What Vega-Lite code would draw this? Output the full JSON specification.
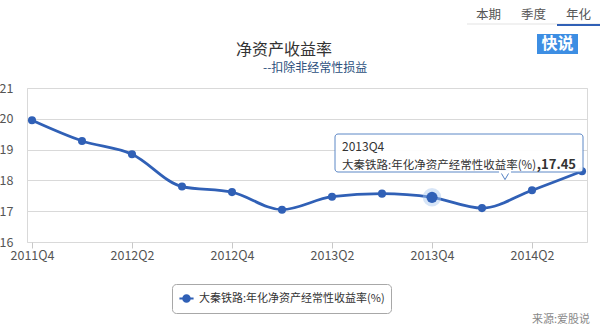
{
  "$schema": "https://vega.github.io/schema/vega-lite/v6.json",
  "width": 560,
  "height": 154,
  "autosize": {"type": "none"},
  "padding": {"left": 27, "top": 88, "right": 13, "bottom": 88},
  "background": "white",
  "config": {
    "font": "Noto Sans CJK SC",
    "view": {"stroke": "#d9d9d9"},
    "axisX": {"grid": false, "domain": false, "ticks": true, "tickColor": "#c8c8c8", "tickSize": 6, "labelColor": "#555555", "labelFontSize": 12.5, "labelPadding": 1, "labelAngle": 0},
    "axisY": {"grid": true, "gridColor": "#d9d9d9", "domain": false, "ticks": false, "labelColor": "#555555", "labelFontSize": 12.5, "labelPadding": 14}
  },
  "datasets": {
    "roe": [
      {"quarter": "2011Q4", "value": 19.95, "series": "大秦铁路:年化净资产经常性收益率(%)"},
      {"quarter": "2012Q1", "value": 19.28, "series": "大秦铁路:年化净资产经常性收益率(%)"},
      {"quarter": "2012Q2", "value": 18.85, "series": "大秦铁路:年化净资产经常性收益率(%)"},
      {"quarter": "2012Q3", "value": 17.8, "series": "大秦铁路:年化净资产经常性收益率(%)"},
      {"quarter": "2012Q4", "value": 17.62, "series": "大秦铁路:年化净资产经常性收益率(%)"},
      {"quarter": "2013Q1", "value": 17.05, "series": "大秦铁路:年化净资产经常性收益率(%)"},
      {"quarter": "2013Q2", "value": 17.47, "series": "大秦铁路:年化净资产经常性收益率(%)"},
      {"quarter": "2013Q3", "value": 17.57, "series": "大秦铁路:年化净资产经常性收益率(%)"},
      {"quarter": "2013Q4", "value": 17.45, "series": "大秦铁路:年化净资产经常性收益率(%)"},
      {"quarter": "2014Q1", "value": 17.1, "series": "大秦铁路:年化净资产经常性收益率(%)"},
      {"quarter": "2014Q2", "value": 17.68, "series": "大秦铁路:年化净资产经常性收益率(%)"},
      {"quarter": "2014Q3", "value": 18.3, "series": "大秦铁路:年化净资产经常性收益率(%)"}
    ],
    "one": [{}]
  },
  "data": {"name": "roe"},
  "layer": [
    {
      "mark": {"type": "line", "interpolate": "monotone", "strokeWidth": 2.8},
      "encoding": {
        "x": {"field": "quarter", "type": "ordinal", "sort": null,
              "scale": {"type": "point", "padding": 0.1, "domain": ["2011Q4","2012Q1","2012Q2","2012Q3","2012Q4","2013Q1","2013Q2","2013Q3","2013Q4","2014Q1","2014Q2","2014Q3"]},
              "axis": {"title": null, "values": ["2011Q4","2012Q2","2012Q4","2013Q2","2013Q4","2014Q2"]}},
        "y": {"field": "value", "type": "quantitative", "scale": {"domain": [16, 21], "nice": false, "zero": false},
              "axis": {"title": null, "values": [16, 17, 18, 19, 20, 21]}},
        "color": {"field": "series", "type": "nominal", "scale": {"range": ["#3060b6"]},
                  "legend": {"title": null, "orient": "none", "legendX": 145, "legendY": 196,
                             "strokeColor": "#a8a8a8", "cornerRadius": 4, "padding": 6, "fillColor": "white",
                             "labelFontSize": 11, "labelColor": "#333333", "labelLimit": 400, "labelOffset": 4,
                             "symbolType": "M-1,0L1,0M0.45,0A0.45,0.45 0 1,1 -0.45,0A0.45,0.45 0 1,1 0.45,0Z",
                             "symbolSize": 200, "symbolStrokeWidth": 2.2,
                             "symbolFillColor": "#3060b6", "symbolStrokeColor": "#3060b6",
                             "encode": {"symbols": {"update": {"fill": {"value": "#3060b6"}, "stroke": {"value": "#3060b6"}, "opacity": {"value": 1}}}}}}
      }
    },
    {
      "mark": {"type": "point", "filled": true, "size": 65, "opacity": 1},
      "encoding": {
        "x": {"field": "quarter", "type": "ordinal", "sort": null, "axis": {"title": null, "values": ["2011Q4","2012Q2","2012Q4","2013Q2","2013Q4","2014Q2"]}},
        "y": {"field": "value", "type": "quantitative", "axis": {"title": null, "values": [16, 17, 18, 19, 20, 21]}},
        "color": {"field": "series", "type": "nominal"}
      }
    },
    {
      "transform": [{"filter": "datum.quarter == '2013Q4'"}],
      "mark": {"type": "point", "filled": true, "size": 340, "color": "#a7c5ee", "opacity": 0.45},
      "encoding": {
        "x": {"field": "quarter", "type": "ordinal", "sort": null, "axis": {"title": null, "values": ["2011Q4","2012Q2","2012Q4","2013Q2","2013Q4","2014Q2"]}},
        "y": {"field": "value", "type": "quantitative", "axis": {"title": null, "values": [16, 17, 18, 19, 20, 21]}}
      }
    },
    {
      "transform": [{"filter": "datum.quarter == '2013Q4'"}],
      "mark": {"type": "point", "filled": true, "size": 125, "color": "#3060b6", "opacity": 1},
      "encoding": {
        "x": {"field": "quarter", "type": "ordinal", "sort": null, "axis": {"title": null, "values": ["2011Q4","2012Q2","2012Q4","2013Q2","2013Q4","2014Q2"]}},
        "y": {"field": "value", "type": "quantitative", "axis": {"title": null, "values": [16, 17, 18, 19, 20, 21]}}
      }
    },
    {
      "data": {"name": "one"},
      "mark": {"type": "rect", "width": 248, "height": 38, "xOffset": 27, "yOffset": 65, "fill": "white", "stroke": "#5582c4", "strokeWidth": 1, "cornerRadius": 3, "opacity": 0.95},
      "encoding": {
        "x": {"datum": "2013Q4", "type": "ordinal", "axis": {"title": null, "values": ["2011Q4","2012Q2","2012Q4","2013Q2","2013Q4","2014Q2"]}},
        "y": {"datum": 21, "type": "quantitative", "axis": {"title": null, "values": [16, 17, 18, 19, 20, 21]}}
      }
    },
    {
      "data": {"name": "one"},
      "mark": {"type": "point", "shape": "triangle-down", "filled": true, "size": 90, "xOffset": 73, "yOffset": 87.5, "fill": "white", "stroke": "#5582c4", "strokeWidth": 1, "opacity": 1},
      "encoding": {
        "x": {"datum": "2013Q4", "type": "ordinal", "axis": {"title": null, "values": ["2011Q4","2012Q2","2012Q4","2013Q2","2013Q4","2014Q2"]}},
        "y": {"datum": 21, "type": "quantitative", "axis": {"title": null, "values": [16, 17, 18, 19, 20, 21]}}
      }
    },
    {
      "data": {"name": "one"},
      "mark": {"type": "rect", "width": 12, "height": 3, "xOffset": 73, "yOffset": 84, "fill": "white"},
      "encoding": {
        "x": {"datum": "2013Q4", "type": "ordinal", "axis": {"title": null, "values": ["2011Q4","2012Q2","2012Q4","2013Q2","2013Q4","2014Q2"]}},
        "y": {"datum": 21, "type": "quantitative", "axis": {"title": null, "values": [16, 17, 18, 19, 20, 21]}}
      }
    },
    {
      "data": {"name": "one"},
      "mark": {"type": "text", "text": "2013Q4", "align": "left", "baseline": "middle", "dx": -90, "dy": 59, "fontSize": 12, "color": "#333333"},
      "encoding": {
        "x": {"datum": "2013Q4", "type": "ordinal", "axis": {"title": null, "values": ["2011Q4","2012Q2","2012Q4","2013Q2","2013Q4","2014Q2"]}},
        "y": {"datum": 21, "type": "quantitative", "axis": {"title": null, "values": [16, 17, 18, 19, 20, 21]}}
      }
    },
    {
      "data": {"name": "one"},
      "mark": {"type": "text", "text": "大秦铁路:年化净资产经常性收益率(%)", "align": "left", "baseline": "middle", "dx": -90, "dy": 78, "fontSize": 11.5, "color": "#333333"},
      "encoding": {
        "x": {"datum": "2013Q4", "type": "ordinal", "axis": {"title": null, "values": ["2011Q4","2012Q2","2012Q4","2013Q2","2013Q4","2014Q2"]}},
        "y": {"datum": 21, "type": "quantitative", "axis": {"title": null, "values": [16, 17, 18, 19, 20, 21]}}
      }
    },
    {
      "data": {"name": "one"},
      "mark": {"type": "text", "text": ",17.45", "align": "right", "baseline": "middle", "dx": 144, "dy": 77, "fontSize": 13, "fontWeight": "bold", "color": "#333333"},
      "encoding": {
        "x": {"datum": "2013Q4", "type": "ordinal", "axis": {"title": null, "values": ["2011Q4","2012Q2","2012Q4","2013Q2","2013Q4","2014Q2"]}},
        "y": {"datum": 21, "type": "quantitative", "axis": {"title": null, "values": [16, 17, 18, 19, 20, 21]}}
      }
    },
    {
      "data": {"name": "one"},
      "mark": {"type": "text", "text": "净资产收益率", "align": "left", "baseline": "middle", "dx": 204, "dy": -38, "fontSize": 16, "color": "#333333"},
      "encoding": {
        "x": {"datum": "2011Q4", "type": "ordinal", "axis": {"title": null, "values": ["2011Q4","2012Q2","2012Q4","2013Q2","2013Q4","2014Q2"]}},
        "y": {"datum": 21, "type": "quantitative", "axis": {"title": null, "values": [16, 17, 18, 19, 20, 21]}}
      }
    },
    {
      "data": {"name": "one"},
      "mark": {"type": "text", "text": "--扣除非经常性损益", "align": "left", "baseline": "middle", "dx": 231, "dy": -20, "fontSize": 12, "color": "#2c4f7c"},
      "encoding": {
        "x": {"datum": "2011Q4", "type": "ordinal", "axis": {"title": null, "values": ["2011Q4","2012Q2","2012Q4","2013Q2","2013Q4","2014Q2"]}},
        "y": {"datum": 21, "type": "quantitative", "axis": {"title": null, "values": [16, 17, 18, 19, 20, 21]}}
      }
    },
    {
      "data": {"name": "one"},
      "mark": {"type": "rule", "xOffset": -15, "x2Offset": 18, "yOffset": -64, "color": "#e3e3e3", "strokeWidth": 1},
      "encoding": {
        "x": {"datum": "2014Q1", "type": "ordinal", "axis": {"title": null, "values": ["2011Q4","2012Q2","2012Q4","2013Q2","2013Q4","2014Q2"]}},
        "x2": {"datum": "2014Q3"},
        "y": {"datum": 21, "type": "quantitative", "axis": {"title": null, "values": [16, 17, 18, 19, 20, 21]}}
      }
    },
    {
      "data": {"name": "one"},
      "mark": {"type": "rule", "xOffset": -25, "x2Offset": 18, "yOffset": -63, "color": "#3060b6", "strokeWidth": 2},
      "encoding": {
        "x": {"datum": "2014Q3", "type": "ordinal", "axis": {"title": null, "values": ["2011Q4","2012Q2","2012Q4","2013Q2","2013Q4","2014Q2"]}},
        "x2": {"datum": "2014Q3"},
        "y": {"datum": 21, "type": "quantitative", "axis": {"title": null, "values": [16, 17, 18, 19, 20, 21]}}
      }
    },
    {
      "data": {"name": "one"},
      "mark": {"type": "text", "text": "本期", "align": "center", "baseline": "middle", "dx": -93.5, "dy": -73, "fontSize": 12.5, "color": "#555555"},
      "encoding": {
        "x": {"datum": "2014Q3", "type": "ordinal", "axis": {"title": null, "values": ["2011Q4","2012Q2","2012Q4","2013Q2","2013Q4","2014Q2"]}},
        "y": {"datum": 21, "type": "quantitative", "axis": {"title": null, "values": [16, 17, 18, 19, 20, 21]}}
      }
    },
    {
      "data": {"name": "one"},
      "mark": {"type": "text", "text": "季度", "align": "center", "baseline": "middle", "dx": -48.5, "dy": -73, "fontSize": 12.5, "color": "#555555"},
      "encoding": {
        "x": {"datum": "2014Q3", "type": "ordinal", "axis": {"title": null, "values": ["2011Q4","2012Q2","2012Q4","2013Q2","2013Q4","2014Q2"]}},
        "y": {"datum": 21, "type": "quantitative", "axis": {"title": null, "values": [16, 17, 18, 19, 20, 21]}}
      }
    },
    {
      "data": {"name": "one"},
      "mark": {"type": "text", "text": "年化", "align": "center", "baseline": "middle", "dx": -3.5, "dy": -73, "fontSize": 12.5, "color": "#555555"},
      "encoding": {
        "x": {"datum": "2014Q3", "type": "ordinal", "axis": {"title": null, "values": ["2011Q4","2012Q2","2012Q4","2013Q2","2013Q4","2014Q2"]}},
        "y": {"datum": 21, "type": "quantitative", "axis": {"title": null, "values": [16, 17, 18, 19, 20, 21]}}
      }
    },
    {
      "data": {"name": "one"},
      "mark": {"type": "rect", "width": 41, "height": 20, "xOffset": -24.5, "yOffset": -44, "fill": "#3d8ee3"},
      "encoding": {
        "x": {"datum": "2014Q3", "type": "ordinal", "axis": {"title": null, "values": ["2011Q4","2012Q2","2012Q4","2013Q2","2013Q4","2014Q2"]}},
        "y": {"datum": 21, "type": "quantitative", "axis": {"title": null, "values": [16, 17, 18, 19, 20, 21]}}
      }
    },
    {
      "data": {"name": "one"},
      "mark": {"type": "text", "text": "快说", "align": "center", "baseline": "middle", "dx": -24.5, "dy": -44, "fontSize": 16, "fontWeight": "bold", "color": "white"},
      "encoding": {
        "x": {"datum": "2014Q3", "type": "ordinal", "axis": {"title": null, "values": ["2011Q4","2012Q2","2012Q4","2013Q2","2013Q4","2014Q2"]}},
        "y": {"datum": 21, "type": "quantitative", "axis": {"title": null, "values": [16, 17, 18, 19, 20, 21]}}
      }
    },
    {
      "data": {"name": "one"},
      "mark": {"type": "text", "text": "来源:爱股说", "align": "right", "baseline": "middle", "dx": 8, "dy": 78, "fontSize": 11, "color": "#888888"},
      "encoding": {
        "x": {"datum": "2014Q3", "type": "ordinal", "axis": {"title": null, "values": ["2011Q4","2012Q2","2012Q4","2013Q2","2013Q4","2014Q2"]}},
        "y": {"datum": 16, "type": "quantitative", "axis": {"title": null, "values": [16, 17, 18, 19, 20, 21]}}
      }
    }
  ]
}
